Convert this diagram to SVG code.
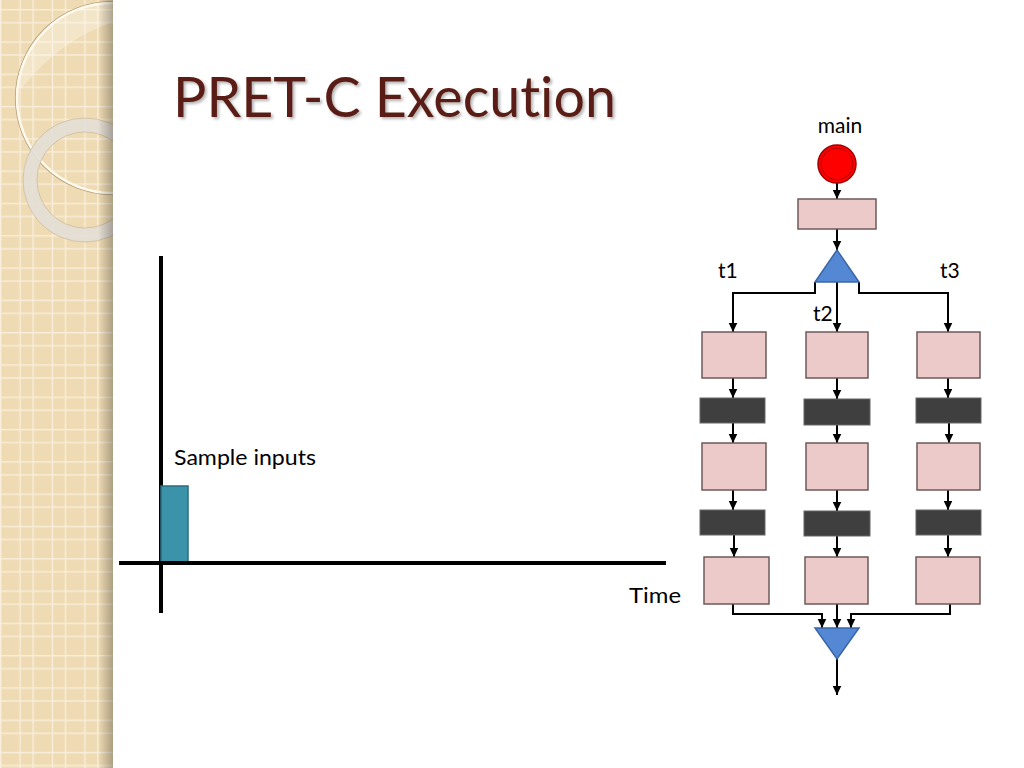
<svg xmlns="http://www.w3.org/2000/svg" width="1024" height="768" viewBox="0 0 1024 768">
<defs>
<style>
text{font-variant-ligatures:none;font-feature-settings:"liga" 0;}
.lbl{font-family:"Lato","Liberation Sans",sans-serif;fill:#000;}
.pink{fill:#eccaca;stroke:#6e5a5a;stroke-width:1.5;}
.dark{fill:#3f3f3f;stroke:#666;stroke-width:1;}
.tri{fill:#5588d4;stroke:#3a66a6;stroke-width:1.5;}
.con{fill:none;stroke:#000;stroke-width:2;marker-end:url(#ah);}
</style>
<marker id="ah" markerUnits="userSpaceOnUse" markerWidth="11" markerHeight="11" refX="9.5" refY="5" orient="auto">
<path d="M0,0.5 L9.5,5 L0,9.5 Z" fill="#000"/>
</marker>
<pattern id="grid" patternUnits="userSpaceOnUse" x="0" y="9" width="32.4" height="32.3">
<rect width="32.4" height="32.3" fill="#efdbb3"/>
<rect x="0" y="0" width="1.4" height="32.3" fill="#f8eedb"/>
<rect x="19.4" y="0" width="1.4" height="32.3" fill="#f8eedb"/>
<rect x="0" y="0" width="32.4" height="1.4" fill="#f8eedb"/>
<rect x="0" y="13" width="32.4" height="1.4" fill="#f8eedb"/>
</pattern>
<linearGradient id="sh" x1="0" y1="0" x2="1" y2="0">
<stop offset="0" stop-color="#000" stop-opacity="0"/>
<stop offset="1" stop-color="#000" stop-opacity="0.28"/>
</linearGradient>
<clipPath id="pc"><rect x="0" y="0" width="113" height="768"/></clipPath>
<filter id="ds" x="-5%" y="-20%" width="110%" height="140%">
<feDropShadow dx="2" dy="2" stdDeviation="1.5" flood-color="#000" flood-opacity="0.3"/>
</filter>
</defs>
<rect width="1024" height="768" fill="#fff"/>
<g id="panel" clip-path="url(#pc)">
<rect x="0" y="0" width="113" height="768" fill="url(#grid)"/>
<path d="M18,88 A95,95 0 0 1 112,3 L113,22 Q60,40 22,88 Z" fill="#fff" fill-opacity="0.28"/>
<circle cx="112" cy="98" r="96.5" fill="none" stroke="#b9a07a" stroke-width="1.2"/>
<circle cx="112" cy="98" r="95" fill="none" stroke="#fffaee" stroke-width="2.5"/>
<circle cx="85" cy="180" r="55" fill="none" stroke="#e3ded6" stroke-width="14" stroke-opacity="0.9"/>
<circle cx="85" cy="180" r="62" fill="none" stroke="#cbbd9e" stroke-width="0.8"/>
<circle cx="85" cy="180" r="48" fill="none" stroke="#cbbd9e" stroke-width="0.8"/>
<rect x="98" y="0" width="15" height="768" fill="url(#sh)"/>
</g>
<text id="title" x="173" y="117" font-family="Lato, 'Liberation Sans', sans-serif" font-size="56" fill="#5a1f14" textLength="443" lengthAdjust="spacingAndGlyphs" filter="url(#ds)">PRET-C Execution</text>
<g id="timeline">
<line x1="161" y1="256" x2="161" y2="613" stroke="#000" stroke-width="4"/>
<rect x="161" y="486" width="27" height="77" fill="#3a93a8" stroke="#2a6e80" stroke-width="1.5"/>
<line x1="119" y1="563" x2="666" y2="563" stroke="#000" stroke-width="4"/>
<text class="lbl" x="174" y="465" font-size="22" textLength="142" lengthAdjust="spacingAndGlyphs">Sample inputs</text>
<text class="lbl" x="629" y="603" font-size="22" textLength="52" lengthAdjust="spacingAndGlyphs">Time</text>
</g>
<g id="connectors">
<path class="con" d="M837,183 V199"/>
<path class="con" d="M837,229 V250"/>
<path class="con" d="M815,282 V293 H733 V332"/>
<path class="con" d="M837,282 V332"/>
<path class="con" d="M859,282 V293 H948 V332"/>
<path class="con" d="M733,378 V398"/>
<path class="con" d="M733,423 V443"/>
<path class="con" d="M733,490 V510"/>
<path class="con" d="M734,535 V557"/>
<path class="con" d="M837,378 V399"/>
<path class="con" d="M837,425 V443"/>
<path class="con" d="M837,490 V511"/>
<path class="con" d="M837,536 V557"/>
<path class="con" d="M948,378 V398"/>
<path class="con" d="M949,423 V443"/>
<path class="con" d="M948,490 V510"/>
<path class="con" d="M948,535 V557"/>
<path class="con" d="M733,604 V614 H822 V628"/>
<path class="con" d="M837,604 V628"/>
<path class="con" d="M950,604 V614 H851 V628"/>
<path class="con" d="M837,659 V695"/>
</g>
<g id="main">
<text class="lbl" x="840" y="133" font-size="21" text-anchor="middle">main</text>
<circle cx="837" cy="164" r="19" fill="#f00" stroke="#a00000" stroke-width="1.5"/>
<circle cx="837" cy="164" r="16" fill="none" stroke="#b00000" stroke-width="1"/>
</g>
<g id="init"><rect class="pink" x="798" y="199" width="78" height="30"/></g>
<g id="fork"><polygon class="tri" points="837,250 815,282 859,282"/></g>
<g id="labels">
<text class="lbl" x="718" y="278" font-size="21">t1</text>
<text class="lbl" x="813" y="321" font-size="21">t2</text>
<text class="lbl" x="940" y="278" font-size="21">t3</text>
</g>
<g id="t1">
<rect class="pink" x="702" y="332" width="64" height="46"/>
<rect class="dark" x="700" y="398" width="65" height="25"/>
<rect class="pink" x="702" y="443" width="64" height="47"/>
<rect class="dark" x="700" y="510" width="65" height="25"/>
<rect class="pink" x="704" y="557" width="65" height="47"/>
</g>
<g id="t2">
<rect class="pink" x="806" y="332" width="62" height="46"/>
<rect class="dark" x="804" y="399" width="66" height="26"/>
<rect class="pink" x="806" y="443" width="62" height="47"/>
<rect class="dark" x="804" y="511" width="66" height="25"/>
<rect class="pink" x="805" y="557" width="63" height="47"/>
</g>
<g id="t3">
<rect class="pink" x="917" y="332" width="63" height="46"/>
<rect class="dark" x="916" y="398" width="65" height="25"/>
<rect class="pink" x="917" y="443" width="63" height="47"/>
<rect class="dark" x="916" y="510" width="65" height="25"/>
<rect class="pink" x="916" y="557" width="64" height="47"/>
</g>
<g id="join"><polygon class="tri" points="815,628 859,628 837,659"/></g>
</svg>
